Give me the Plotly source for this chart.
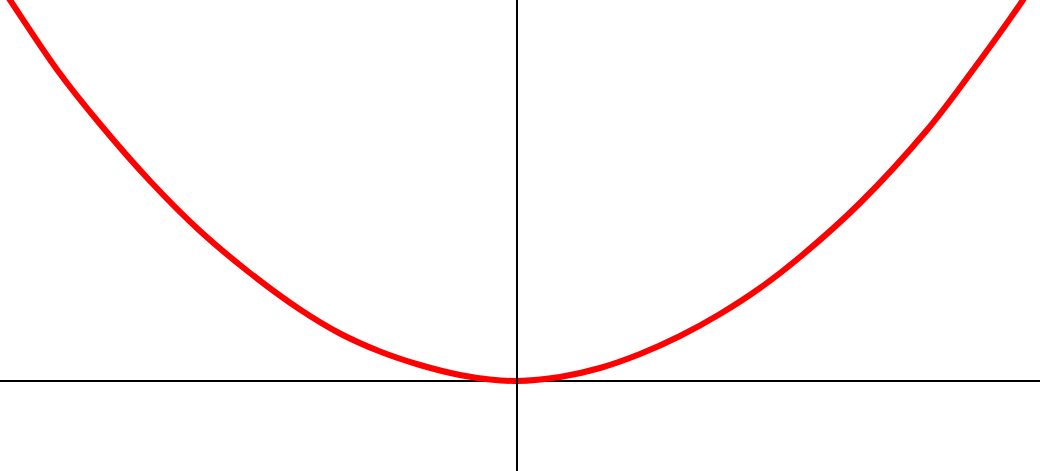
import plotly.graph_objects as go

# Curve points (units: 100 px, origin at the axes crossing)
curve_x = [-5.19, -5.07, -4.59, -4.17, -3.67, -3.17, -2.67, -2.17, -1.77, -1.37,
           -0.97, -0.57, -0.27, 0.00, 0.43, 0.83, 1.23, 1.63, 2.03, 2.43,
           2.83, 3.43, 4.10, 4.53, 5.06, 5.19]
curve_y = [3.99, 3.81, 3.10, 2.57, 2.00, 1.50, 1.08, 0.715, 0.475, 0.295,
           0.16, 0.06, 0.015, 0.00, 0.04, 0.13, 0.27, 0.45, 0.67, 0.93,
           1.24, 1.78, 2.51, 3.07, 3.81, 4.01]

x_range = [-5.17, 5.23]
y_range = [-0.90, 3.81]

fig = go.Figure()
fig.add_trace(go.Scatter(
    x=curve_x, y=curve_y, mode="lines",
    line=dict(color="#ff0000", width=6, shape="spline", smoothing=1.0),
    hoverinfo="skip", showlegend=False,
))

fig.add_vline(x=0, line=dict(color="black", width=2), layer="above")

fig.update_xaxes(range=x_range, showgrid=False, showticklabels=False, ticks="",
                 zeroline=False, showline=False, fixedrange=True)
fig.update_yaxes(range=y_range, showgrid=False, showticklabels=False, ticks="",
                 zeroline=True, zerolinecolor="black", zerolinewidth=2,
                 showline=False, fixedrange=True)

fig.update_layout(
    width=1040, height=471,
    margin=dict(l=0, r=0, t=0, b=0),
    paper_bgcolor="white", plot_bgcolor="white",
    showlegend=False,
)

fig.write_html("out.html", config={"displayModeBar": False},
               post_script="document.body.style.margin='0';document.body.style.overflow='hidden';")
